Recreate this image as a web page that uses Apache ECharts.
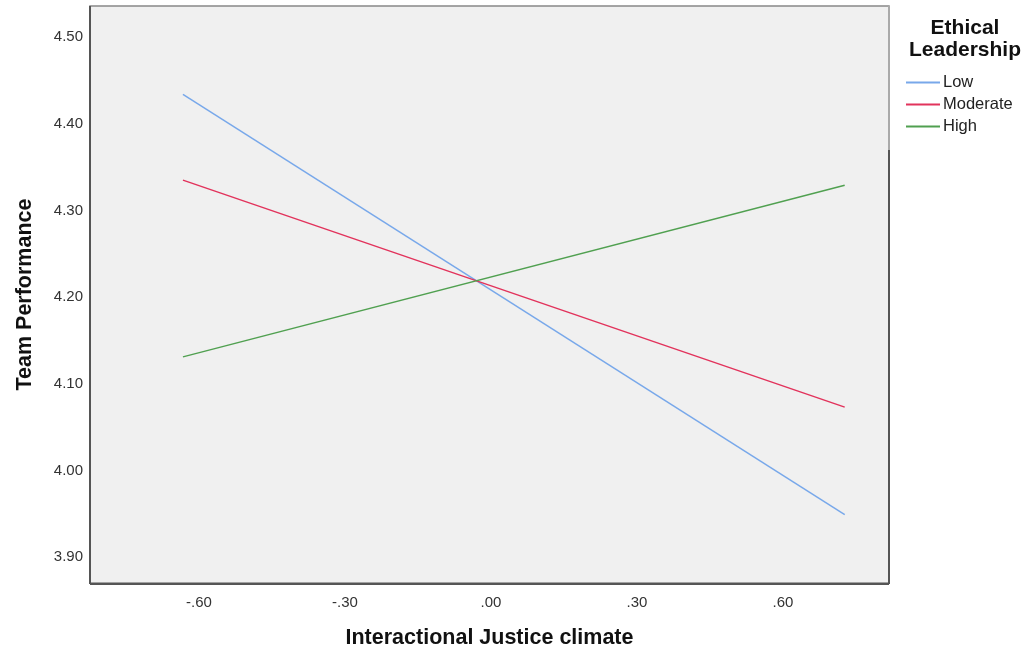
<!DOCTYPE html>
<html>
<head>
<meta charset="utf-8">
<script src="https://cdn.jsdelivr.net/npm/echarts@6/dist/echarts.min.js"></script>
<style>html,body{margin:0;padding:0;background:#fff}#c{width:1026px;height:654px}</style>
</head>
<body>
<div id="c"></div>
<script>
const xPoints = [-0.633, 0.727];
const lowValues = [4.434, 3.949];
const moderateValues = [4.335, 4.073];
const highValues = [4.131, 4.329];
const seriesNames = ['Low', 'Moderate', 'High'];
const xTicks = [-0.6, -0.3, 0, 0.3, 0.6];
const yTicks = [3.9, 4.0, 4.1, 4.2, 4.3, 4.4, 4.5];

const FONT = '"Liberation Sans", Arial, sans-serif';
function fmtX(v){ const s = Math.abs(v).toFixed(2).replace(/^0/, ''); return (v < -1e-9 ? '-' : '') + s; }
const chart = echarts.init(document.getElementById('c'), null, {renderer:'canvas'});
const mk = (vals) => xPoints.map((x,i)=>[x, vals[i]]);
const GL = 90, GR = 889, GT = 6, GB = 584;
chart.setOption({
  animation: false,
  backgroundColor: '#ffffff',
  title: {
    text: 'Ethical\nLeadership',
    left: 960, top: 12, textAlign: 'center',
    textStyle: {fontFamily: FONT, fontSize: 21, fontWeight: 'bold', color: '#111', lineHeight: 22}
  },
  legend: {
    orient: 'vertical', left: 901, top: 69,
    itemWidth: 34, itemHeight: 1.8, itemGap: 5, icon: 'rect',
    data: seriesNames,
    textStyle: {fontFamily: FONT, fontSize: 16.5, color: '#222', padding: [0,0,0,-2]}
  },
  grid: {
    left: GL, right: 1026 - GR, top: GT, bottom: 654 - GB,
    show: true, backgroundColor: '#f0f0f0', borderColor: '#888', borderWidth: 1.5
  },
  graphic: [
    {type: 'line', shape: {x1: GL, y1: GT, x2: GL, y2: GB}, style: {stroke: '#555', lineWidth: 2}, z: 100},
    {type: 'line', shape: {x1: GL, y1: GB, x2: GR, y2: GB}, style: {stroke: '#555', lineWidth: 2}, z: 100},
    {type: 'line', shape: {x1: GR, y1: 150, x2: GR, y2: GB}, style: {stroke: '#555', lineWidth: 2}, z: 100},
    {type: 'line', shape: {x1: GR, y1: GT, x2: GR, y2: 150}, style: {stroke: '#aaa', lineWidth: 2}, z: 100}
  ],
  xAxis: {
    type: 'value', min: -0.824, max: 0.818,
    name: 'Interactional Justice climate', nameLocation: 'middle', nameGap: 44,
    nameTextStyle: {fontFamily: FONT, fontSize: 21.5, fontWeight: 'bold', color: '#111'},
    axisLine: {show: false}, axisTick: {show: false}, splitLine: {show: false},
    axisLabel: {customValues: xTicks, formatter: fmtX, fontFamily: FONT, fontSize: 15, color: '#333', margin: 12}
  },
  yAxis: {
    type: 'value', min: 3.870, max: 4.536,
    name: 'Team Performance', nameLocation: 'middle', nameGap: 54,
    nameTextStyle: {fontFamily: FONT, fontSize: 21.5, fontWeight: 'bold', color: '#111'},
    axisLine: {show: false}, axisTick: {show: false}, splitLine: {show: false},
    axisLabel: {customValues: yTicks, formatter: v => v.toFixed(2), fontFamily: FONT, fontSize: 15, color: '#333', margin: 7}
  },
  series: [
    {name: seriesNames[0], type: 'line', data: mk(lowValues), symbol: 'none', lineStyle: {color: '#78a8ea', width: 1.5}, itemStyle: {color: '#78a8ea'}},
    {name: seriesNames[1], type: 'line', data: mk(moderateValues), symbol: 'none', lineStyle: {color: '#e2335c', width: 1.5}, itemStyle: {color: '#e2335c'}},
    {name: seriesNames[2], type: 'line', data: mk(highValues), symbol: 'none', lineStyle: {color: '#50a050', width: 1.5}, itemStyle: {color: '#50a050'}}
  ]
});
</script>
</body>
</html>
